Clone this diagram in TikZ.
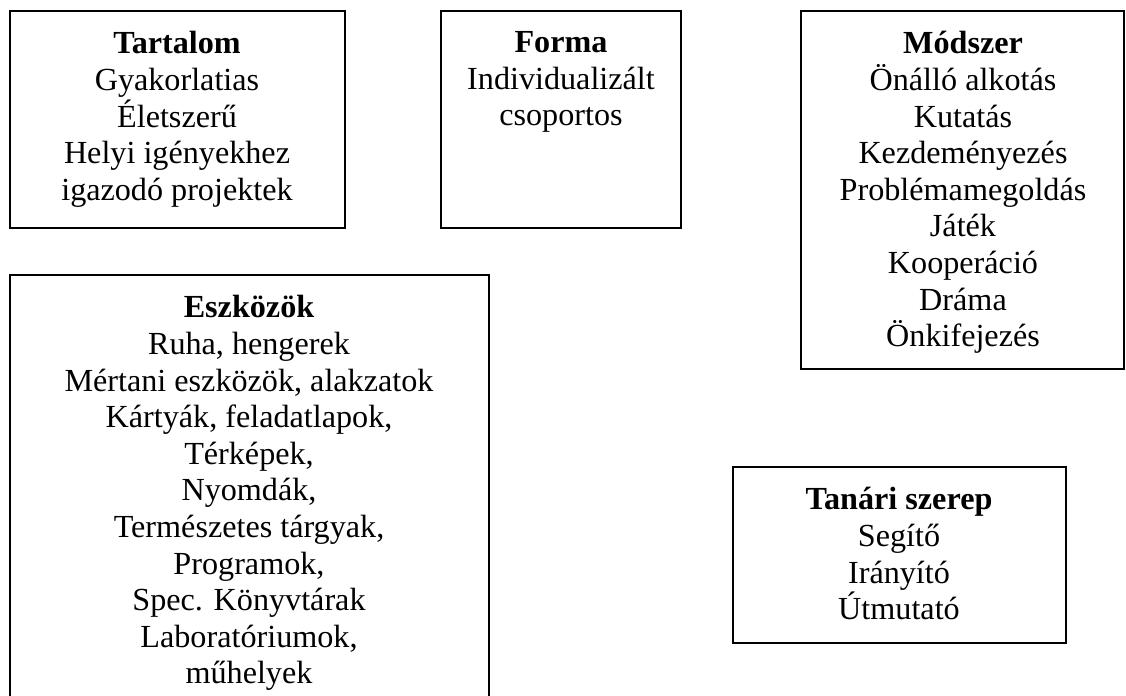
\documentclass[tikz,border=0pt]{standalone}
\usepackage{fontspec}
\setmainfont{Liberation Serif}
\usepackage{tikz}

\begin{document}
\begin{tikzpicture}[x=0.373pt, y=-0.373pt,
    box/.style={line width=0.8pt},
    lbl/.style={anchor=north, align=center, inner sep=0pt,
      font=\fontsize{12}{13.65}\selectfont}]
  % --- 0. Frame ---
  \useasboundingbox (0,0) rectangle (1126,695);

  % --- 1. Tartalom ---
  \draw[box] (10,11) rectangle (345,228);
  \node[lbl] (tartalom) at (177,31) {\textbf{Tartalom}\\Gyakorlatias\\Életszerű\\Helyi igényekhez\\igazodó projektek};

  % --- 2. Forma ---
  \draw[box] (441,11) rectangle (681,228);
  \node[lbl] (forma) at (561,31) {\textbf{Forma}\\Individualizált\\csoportos};

  % --- 3. Modszer ---
  \draw[box] (801,11) rectangle (1124,369);
  \node[lbl] (modszer) at (963,31) {\textbf{Módszer}\\Önálló alkotás\\Kutatás\\Kezdeményezés\\Problémamegoldás\\Játék\\Kooperáció\\Dráma\\Önkifejezés};

  % --- 4. Eszkozok (bottom edge runs off the page) ---
  \draw[box] (10,720) -- (10,275) -- (489,275) -- (489,720);
  \node[lbl] (eszkozok) at (249,295) {\textbf{Eszközök}\\Ruha, hengerek\\Mértani eszközök, alakzatok\\Kártyák, feladatlapok,\\Térképek,\\Nyomdák,\\Természetes tárgyak,\\Programok,\\Spec. Könyvtárak\\Laboratóriumok,\\műhelyek};

  % --- 5. Tanari szerep ---
  \draw[box] (733,467) rectangle (1066,643);
  \node[lbl] (szerep) at (899,487) {\textbf{Tanári szerep}\\Segítő\\Irányító\\Útmutató};

\end{tikzpicture}
\end{document}
